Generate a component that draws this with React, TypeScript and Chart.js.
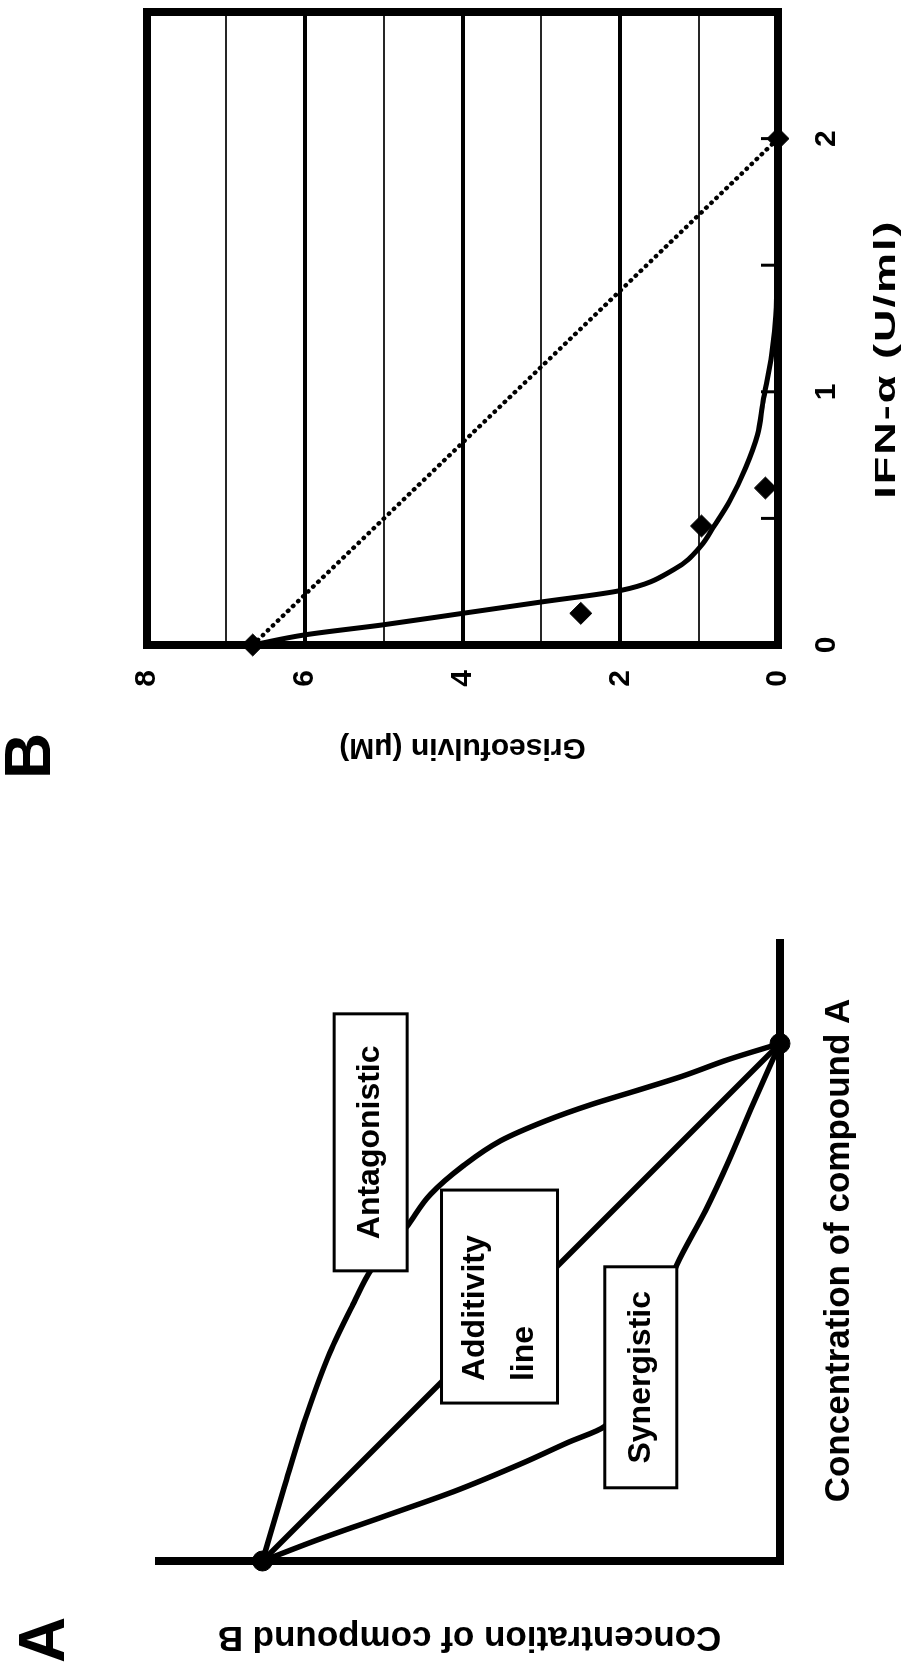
import React, { useEffect, useRef } from "react";
import { Chart, registerables } from "chart.js";

Chart.register(...registerables);

const FONT = "'Liberation Sans', Arial, Helvetica, sans-serif";

// ---------------- Panel A : schematic isobologram ----------------
const additivityA = [0, 1];
const additivityB = [1, 0];
const antagonisticA = [0, 0.142, 0.284, 0.402, 0.496, 0.563, 0.645, 0.709, 0.763, 0.812, 0.85, 0.882, 0.909, 0.937, 0.969, 1];
const antagonisticB = [1, 0.958, 0.914, 0.87, 0.825, 0.79, 0.722, 0.675, 0.613, 0.54, 0.454, 0.365, 0.277, 0.188, 0.1, 0];
const synergisticA = [0, 0.04, 0.087, 0.134, 0.189, 0.229, 0.26, 0.571, 0.677, 0.771, 0.874, 1];
const synergisticB = [1, 0.896, 0.763, 0.631, 0.498, 0.41, 0.339, 0.2, 0.144, 0.1, 0.056, 0];
const endpointA = [0, 1];
const endpointB = [1, 0];

// ---------------- Panel B : IFN-alpha + griseofulvin ----------------
const ifnMeasured = [0, 0.125, 0.47, 0.62, 2];
const griseoMeasured = [6.66, 2.5, 0.97, 0.16, 0];
const ifnFit = [0, 0.04, 0.08, 0.125, 0.17, 0.215, 0.3, 0.39, 0.47, 0.57, 0.7, 0.83, 0.96, 1.15, 1.3, 1.5, 2];
const griseoFit = [6.66, 6.0, 5.0, 4.0, 3.0, 2.0, 1.31, 0.98, 0.81, 0.61, 0.41, 0.26, 0.19, 0.08, 0.03, 0.01, 0];
const ifnAdditive = [0, 2];
const griseoAdditive = [6.66, 0];
const ifnTickLabels = [0, 1, 2];
const griseoTickLabels = [0, 2, 4, 6, 8];
const ifnTitle = "IFN-α (U/ml)";

const pts = (xs: number[], ys: number[]) => xs.map((x, i) => ({ x, y: ys[i] }));

// annotation boxes of panel A (centre in data units, size in px)
const boxLabels = [
  { lines: ["Antagonistic"], a: 0.809, b: 0.791, w: 257, h: 73, align: "center" },
  { lines: ["Additivity", "line"], a: 0.511, b: 0.542, w: 213, h: 116, align: "left" },
  { lines: ["Synergistic"], a: 0.355, b: 0.269, w: 221, h: 72, align: "center" },
];

const boxPlugin = {
  id: "boxes",
  afterDatasetsDraw(chart: any) {
    const { ctx } = chart;
    const xs = chart.scales.x;
    const ys = chart.scales.y;
    ctx.save();
    for (const bx of boxLabels) {
      const cx = xs.getPixelForValue(bx.a);
      const cy = ys.getPixelForValue(bx.b);
      const l = cx - bx.w / 2;
      const t = cy - bx.h / 2;
      ctx.fillStyle = "#fff";
      ctx.fillRect(l, t, bx.w, bx.h);
      ctx.lineWidth = 3;
      ctx.strokeStyle = "#000";
      ctx.strokeRect(l, t, bx.w, bx.h);
      ctx.fillStyle = "#000";
      ctx.font = `bold 32px ${FONT}`;
      ctx.textBaseline = "middle";
      const lh = 49;
      const n = bx.lines.length;
      bx.lines.forEach((s, i) => {
        const y = cy + (i - (n - 1) / 2) * lh;
        if (bx.align === "left") {
          ctx.textAlign = "left";
          ctx.fillText(s, l + 22, y);
        } else {
          ctx.textAlign = "center";
          ctx.fillText(s, cx, y);
        }
      });
    }
    ctx.restore();
  },
};

const letterPlugin = (letter: string, x: number, y: number) => ({
  id: "letter" + letter,
  afterDraw(chart: any) {
    const { ctx } = chart;
    ctx.save();
    ctx.fillStyle = "#000";
    ctx.font = `bold 64px ${FONT}`;
    ctx.textAlign = "center";
    ctx.textBaseline = "middle";
    ctx.fillText(letter, x, y);
    ctx.restore();
  },
});

// wide x-axis title of panel B
const ifnTitlePlugin = {
  id: "ifnTitle",
  afterDraw(chart: any) {
    const { ctx, chartArea } = chart;
    const cx = chartArea.left + (chartArea.right - chartArea.left) * 0.45;
    const cy = 887;
    const sx = 1.5;
    const spacing = 2;
    ctx.save();
    ctx.font = `bold 30px ${FONT}`;
    ctx.fillStyle = "#000";
    ctx.textBaseline = "middle";
    ctx.textAlign = "left";
    ctx.translate(cx, cy);
    ctx.scale(sx, 1);
    const chars = Array.from(ifnTitle);
    const widths = chars.map((c) => ctx.measureText(c).width);
    const total = widths.reduce((p, q) => p + q, 0) + (spacing / sx) * (chars.length - 1);
    let x = -total / 2;
    chars.forEach((c, i) => {
      ctx.fillText(c, x, 0);
      x += widths[i] + spacing / sx;
    });
    ctx.restore();
  },
};

const frameBPlugin = {
  id: "frameB",
  beforeDatasetsDraw(chart: any) {
    const { ctx, chartArea } = chart;
    const { left, right, top, bottom } = chartArea;
    ctx.save();
    ctx.strokeStyle = "#000";
    ctx.lineWidth = 8;
    ctx.strokeRect(left, top, right - left, bottom - top);
    const xs = chart.scales.x;
    ctx.lineWidth = 3;
    xs.ticks.forEach((t: any) => {
      const px = xs.getPixelForValue(t.value);
      if (px > left + 6 && px < right - 6) {
        ctx.beginPath();
        ctx.moveTo(px, bottom);
        ctx.lineTo(px, bottom - 17);
        ctx.stroke();
      }
    });
    ctx.restore();
  },
};

export default function App() {
  const refA = useRef<HTMLCanvasElement>(null);
  const refB = useRef<HTMLCanvasElement>(null);

  useEffect(() => {
    Chart.defaults.font.family = FONT;
    Chart.defaults.color = "#000";

    const lineBase = {
      showLine: true,
      borderColor: "#000",
      backgroundColor: "#000",
      pointRadius: 0,
      clip: false as any,
    };

    const chartA = new Chart(refA.current as HTMLCanvasElement, {
      type: "scatter",
      data: {
        datasets: [
          { ...lineBase, data: pts(antagonisticA, antagonisticB), borderWidth: 5.5, cubicInterpolationMode: "monotone" },
          { ...lineBase, data: pts(additivityA, additivityB), borderWidth: 5.5 },
          { ...lineBase, data: pts(synergisticA, synergisticB), borderWidth: 5.5, cubicInterpolationMode: "monotone" },
          {
            data: pts(endpointA, endpointB),
            showLine: false,
            pointRadius: 10,
            pointBackgroundColor: "#000",
            pointBorderColor: "#000",
            clip: false as any,
          },
        ] as any,
      },
      options: {
        animation: false,
        responsive: false,
        maintainAspectRatio: false,
        layout: { padding: { left: 0, right: 150, top: 159, bottom: 0 } },
        plugins: { legend: { display: false }, tooltip: { enabled: false } },
        scales: {
          x: {
            type: "linear",
            min: 0,
            max: 1.2,
            afterFit: (s: any) => {
              s.height = 141;
              s.paddingLeft = 0;
              s.paddingRight = 0;
            },
            grid: { display: false },
            ticks: { display: false },
            border: { display: true, width: 8, color: "#000" },
            title: {
              display: true,
              text: "Concentration of compound A",
              font: { size: 35, weight: "bold", family: FONT },
              color: "#000",
              padding: { top: 0, bottom: 61 },
            },
          },
          y: {
            type: "linear",
            min: 0,
            max: 1.2,
            afterFit: (s: any) => {
              s.width = 109;
              s.paddingTop = 0;
              s.paddingBottom = 0;
            },
            grid: { display: false },
            ticks: { display: false },
            border: { display: true, width: 8, color: "#000" },
            title: {
              display: true,
              text: "Concentration of compound B",
              font: { size: 35, weight: "bold", family: FONT },
              color: "#000",
              padding: { top: 12, bottom: 0 },
            },
          },
        },
      } as any,
      plugins: [boxPlugin, letterPlugin("A", 30, 46)],
    });

    const chartB = new Chart(refB.current as HTMLCanvasElement, {
      type: "scatter",
      data: {
        datasets: [
          {
            ...lineBase,
            data: pts(ifnAdditive, griseoAdditive),
            borderWidth: 4.5,
            borderDash: [0.5, 6.5],
            borderCapStyle: "round",
          },
          { ...lineBase, data: pts(ifnFit, griseoFit), borderWidth: 5, cubicInterpolationMode: "monotone" },
          {
            data: pts(ifnMeasured, griseoMeasured),
            showLine: false,
            pointStyle: "rectRot",
            pointRadius: 11,
            pointBackgroundColor: "#000",
            pointBorderColor: "#000",
            clip: false as any,
          },
        ] as any,
      },
      options: {
        animation: false,
        responsive: false,
        maintainAspectRatio: false,
        layout: { padding: { left: 0, right: 9, top: 147, bottom: 0 } },
        plugins: { legend: { display: false }, tooltip: { enabled: false } },
        scales: {
          x: {
            type: "linear",
            min: 0,
            max: 2.5,
            afterFit: (s: any) => {
              s.height = 143;
              s.paddingLeft = 0;
              s.paddingRight = 0;
            },
            grid: { display: false },
            border: { display: false },
            ticks: {
              stepSize: 0.5,
              autoSkip: false,
              maxRotation: 0,
              padding: 23,
              font: { size: 30, weight: "bold", family: FONT },
              color: "#000",
              callback: (v: any) => (ifnTickLabels.includes(Number(v)) ? String(v) : ""),
            },
            title: { display: false },
          },
          y: {
            type: "linear",
            min: 0,
            max: 8,
            afterFit: (s: any) => {
              s.width = 145;
              s.paddingTop = 0;
              s.paddingBottom = 0;
            },
            border: { display: false },
            grid: {
              drawTicks: false,
              color: (c: any) => (c.tick && c.tick.value % 2 === 0 ? "#000" : "#262626"),
              lineWidth: (c: any) => {
                const v = c.tick ? c.tick.value : 0;
                if (v === 0 || v === 8) return 0;
                return v % 2 === 0 ? 4 : 2;
              },
            },
            ticks: {
              stepSize: 1,
              autoSkip: false,
              padding: 25,
              font: { size: 30, weight: "bold", family: FONT },
              color: "#000",
              callback: (v: any) => (griseoTickLabels.includes(Number(v)) ? String(v) : ""),
            },
            title: {
              display: true,
              text: "Griseofulvin (μM)",
              font: { size: 30, weight: "bold", family: FONT },
              color: "#000",
              padding: { top: 25, bottom: 0 },
            },
          },
        },
      } as any,
      plugins: [frameBPlugin, ifnTitlePlugin, letterPlugin("B", 34, 32)],
    });

    return () => {
      chartA.destroy();
      chartB.destroy();
    };
  }, []);

  return (
    <div
      style={{
        position: "fixed",
        left: 0,
        top: 0,
        width: 921,
        height: 1670,
        overflow: "hidden",
        background: "#fff",
      }}
    >
      <div
        style={{
          position: "absolute",
          left: 0,
          top: 0,
          width: 1670,
          height: 921,
          transformOrigin: "0 0",
          transform: "translateY(1670px) rotate(-90deg)",
        }}
      >
        <canvas
          ref={refA}
          width={880}
          height={921}
          style={{ position: "absolute", left: 0, top: 0, width: 880, height: 921 }}
        />
        <canvas
          ref={refB}
          width={790}
          height={921}
          style={{ position: "absolute", left: 880, top: 0, width: 790, height: 921 }}
        />
      </div>
    </div>
  );
}
